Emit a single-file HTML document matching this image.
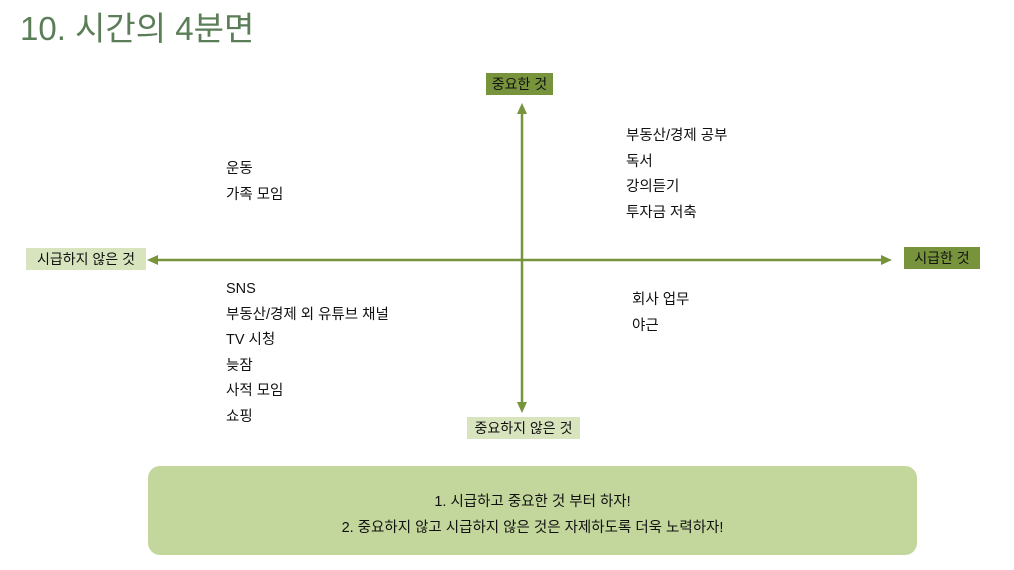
<!DOCTYPE html>
<html><head><meta charset="utf-8"><style>
body{margin:0;width:1014px;height:570px;background:#fff;position:relative;overflow:hidden;font-family:"Liberation Sans","Noto Sans CJK KR",sans-serif;color:#111}
.a{position:absolute;white-space:nowrap}
.lb{position:absolute;font-size:14px;line-height:22px;text-align:center}
.t{font-size:14.5px;line-height:25.5px}
</style></head><body>
<div class="a" style="left:20px;top:7px;font-size:33px;color:#5b7d57;line-height:44px">10. 시간의 4분면</div>
<svg class="a" style="left:0;top:0" width="1014" height="570">
<line x1="522" y1="112" x2="522" y2="404" stroke="#77933c" stroke-width="2.5"/>
<polygon points="522,103 517,114 527,114" fill="#77933c"/>
<polygon points="522,413 517,402 527,402" fill="#77933c"/>
<line x1="156" y1="260" x2="883" y2="260" stroke="#77933c" stroke-width="2.5"/>
<polygon points="147,260 158,255 158,265" fill="#77933c"/>
<polygon points="892,260 881,255 881,265" fill="#77933c"/>
</svg>
<div class="lb" style="left:486px;top:73px;width:67px;background:#77933c">중요한 것</div>
<div class="lb" style="left:26px;top:248px;width:120px;background:#d7e4bd">시급하지 않은 것</div>
<div class="lb" style="left:904px;top:247px;width:76px;background:#77933c">시급한 것</div>
<div class="lb" style="left:467px;top:417px;width:113px;background:#d7e4bd">중요하지 않은 것</div>
<div class="a t" style="left:626px;top:124px">부동산/경제 공부<br>독서<br>강의듣기<br>투자금 저축</div>
<div class="a t" style="left:226px;top:157px">운동<br>가족 모임</div>
<div class="a t" style="left:226px;top:277px">SNS<br>부동산/경제 외 유튜브 채널<br>TV 시청<br>늦잠<br>사적 모임<br>쇼핑</div>
<div class="a t" style="left:632px;top:288px">회사 업무<br>야근</div>
<div class="a" style="left:148px;top:466px;width:769px;height:89px;background:#c3d69b;border-radius:12px;text-align:center;font-size:14.5px;line-height:26px;padding-top:23px;box-sizing:border-box">1. 시급하고 중요한 것 부터 하자!<br>2. 중요하지 않고 시급하지 않은 것은 자제하도록 더욱 노력하자!</div>
</body></html>
